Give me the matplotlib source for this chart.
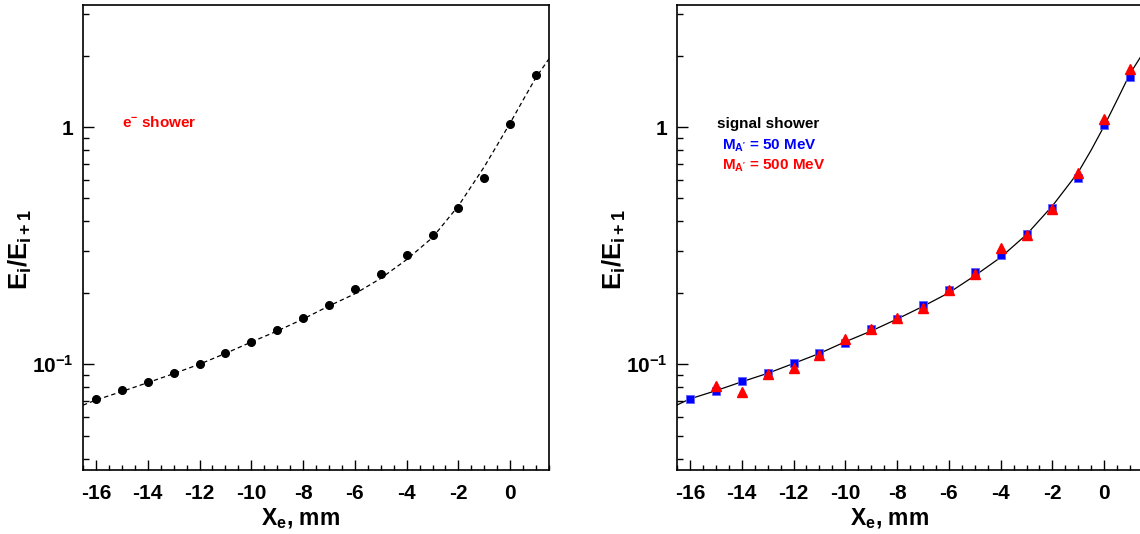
import matplotlib
matplotlib.use("Agg")
import matplotlib.pyplot as plt
from matplotlib.ticker import FixedLocator, FixedFormatter, NullFormatter

plt.rcParams['font.family'] = ['Liberation Sans', 'DejaVu Sans']
plt.rcParams['font.weight'] = 'bold'
plt.rcParams['mathtext.fontset'] = 'custom'
plt.rcParams['mathtext.rm'] = 'Liberation Sans:bold'
plt.rcParams['mathtext.bf'] = 'Liberation Sans:bold'
plt.rcParams['mathtext.it'] = 'Liberation Sans:bold'
plt.rcParams['mathtext.default'] = 'bf'

# ---- data ----
x_layers = [-16, -15, -14, -13, -12, -11, -10, -9, -8, -7, -6, -5, -4, -3, -2, -1, 0, 1]
e_shower = [0.0713, 0.0775, 0.0842, 0.0914, 0.1005, 0.111, 0.124, 0.139, 0.156, 0.178,
            0.207, 0.240, 0.290, 0.352, 0.456, 0.611, 1.027, 1.65]

sig50 = [0.0716, 0.0773, 0.0853, 0.0915, 0.1007, 0.1115, 0.1227, 0.1405, 0.1556, 0.178,
         0.2053, 0.2437, 0.289, 0.354, 0.4547, 0.61, 1.02, 1.63]
x_sig500 = [-15, -14, -13, -12, -11, -10, -9, -8, -7, -6, -5, -4, -3, -2, -1, 0, 1]
sig500 = [0.0807, 0.076, 0.0912, 0.0964, 0.109, 0.128, 0.141, 0.157, 0.172, 0.2046,
          0.239, 0.309, 0.352, 0.452, 0.641, 1.086, 1.757]

# fit curves
x_fit = [-16.5, -16, -15, -14, -13, -12, -11, -10, -9, -8, -7, -6, -5, -4, -3, -2, -1, -0.5, 0, 0.5, 1, 1.5]
fit_e = [0.0672, 0.0706, 0.0767, 0.0836, 0.0912, 0.100, 0.111, 0.124, 0.138, 0.155, 0.176,
         0.198, 0.230, 0.276, 0.342, 0.465, 0.68, 0.84, 1.04, 1.30, 1.62, 1.94]
fit_sig = [0.0673, 0.0714, 0.0773, 0.0843, 0.0915, 0.1007, 0.111, 0.1243, 0.138, 0.155, 0.1753,
           0.200, 0.236, 0.282, 0.352, 0.465, 0.645, 0.80, 1.01, 1.30, 1.68, 2.05]

x_ticks = [-16, -14, -12, -10, -8, -6, -4, -2, 0]
x_ticklabels = ['-16', '-14', '-12', '-10', '-8', '-6', '-4', '-2', '0']
y_ticks = [0.1, 1.0]
y_ticklabels = [r'$\mathbf{10^{-1}}$', '1']

fig = plt.figure(figsize=(11.4, 5.34), dpi=100)
axL = fig.add_axes([83 / 1140, 64 / 534, 466 / 1140, 465 / 534])
axR = fig.add_axes([677 / 1140, 64 / 534, 466 / 1140, 465 / 534])

for ax in (axL, axR):
    ax.set_yscale('log')
    ax.set_xlim(-16.5, 1.5)
    ax.set_ylim(0.0358, 3.27)
    ax.xaxis.set_major_locator(FixedLocator(x_ticks))
    ax.xaxis.set_major_formatter(FixedFormatter(x_ticklabels))
    ax.xaxis.set_minor_locator(FixedLocator([v * 0.5 for v in range(-33, 4)]))
    ax.yaxis.set_major_locator(FixedLocator(y_ticks))
    ax.yaxis.set_major_formatter(FixedFormatter(y_ticklabels))
    ax.yaxis.set_minor_locator(FixedLocator([0.04, 0.05, 0.06, 0.07, 0.08, 0.09,
                                             0.2, 0.3, 0.4, 0.5, 0.6, 0.7, 0.8, 0.9, 2, 3]))
    ax.yaxis.set_minor_formatter(NullFormatter())
    ax.tick_params(axis='both', which='both', direction='in', top=False, right=False,
                   color='black', width=1.0)
    ax.tick_params(axis='x', which='major', length=7.5, labelsize=15, pad=10)
    ax.tick_params(axis='x', which='minor', length=3.7)
    ax.tick_params(axis='y', which='major', length=8, labelsize=15, pad=7)
    ax.tick_params(axis='y', which='minor', length=4.2)
    for lab in ax.get_xticklabels() + ax.get_yticklabels():
        lab.set_fontweight('bold')
    for sp in ax.spines.values():
        sp.set_linewidth(1.2)
        sp.set_color('black')

# left panel
axL.plot(x_fit, fit_e, color='black', lw=0.9, ls=(0, (3.5, 2.5)))
axL.plot(x_layers, e_shower, ls='none', marker='o', ms=5.5, color='black')
axL.text(0.083, 0.737, r'e$^{\mathbf{-}}$ shower', color='red', fontsize=11,
         fontweight='bold', transform=axL.transAxes, ha='left', va='baseline')

# right panel
axR.plot(x_fit, fit_sig, color='black', lw=0.9)
axR.plot(x_layers, sig50, ls='none', marker='s', ms=6, color='#0000ff', mec='#6060ff', mew=0.6)
axR.plot(x_sig500, sig500, ls='none', marker='^', ms=6.5, color='red')
axR.text(0.085, 0.735, 'signal shower', color='black', fontsize=11, fontweight='bold',
         transform=axR.transAxes, ha='left', va='baseline')
axR.text(0.096, 0.690, r"$\mathbf{M_{A'}}$ = 50 MeV", color='#0000ff', fontsize=11,
         fontweight='bold', transform=axR.transAxes, ha='left', va='baseline')
axR.text(0.096, 0.645, r"$\mathbf{M_{A'}}$ = 500 MeV", color='red', fontsize=11,
         fontweight='bold', transform=axR.transAxes, ha='left', va='baseline')

for ax, xc in ((axL, 0.466), (axR, 0.457)):
    ax.text(-0.135, 0.475, r'$\mathbf{E_i/E_{i+1}}$', rotation=90, fontsize=18.5,
            transform=ax.transAxes, ha='center', va='center')
    ax.text(xc, -0.105, r'$\mathbf{X_e}$, mm', fontsize=16.5, fontweight='bold',
            transform=ax.transAxes, ha='center', va='center')

fig.savefig('out.png', dpi=100)
